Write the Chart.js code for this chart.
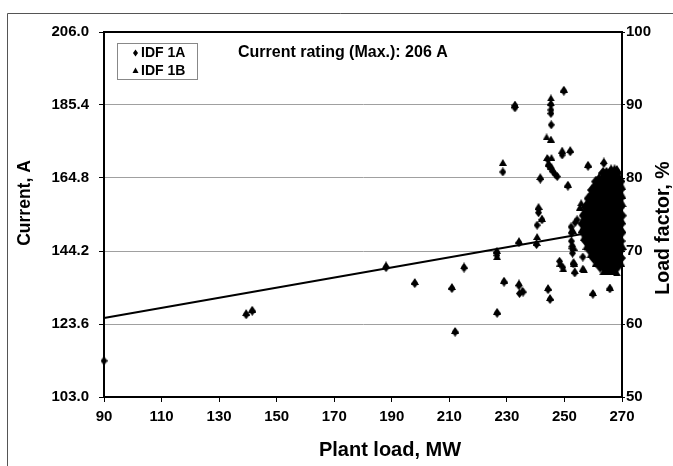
<!DOCTYPE html>
<html>
<head>
<meta charset="utf-8">
<script src="https://cdn.jsdelivr.net/npm/chart.js@4.4.1/dist/chart.umd.min.js"></script>
<style>
  html, body { margin: 0; padding: 0; background: #fff; }
  #wrap { width: 673px; height: 466px; position: relative; }
</style>
</head>
<body>
<div id="wrap"><canvas id="c" width="673" height="466"></canvas></div>
<script>
// ---- tick labels ----
const xTicks = [90, 110, 130, 150, 170, 190, 210, 230, 250, 270];
const yTicks = [103.0, 123.6, 144.2, 164.8, 185.4, 206.0];
const y2Ticks = [50, 60, 70, 80, 90, 100];

// ---- series: [plant load MW, current A] ----
const idf1aOutliers = [
  [90,113.2],[139.4,126.2],[141.5,127.2],[188,139.5],[198,135.0],[210.9,133.6],[212,121.3],[215.1,139.4],
  [226.5,143.0],[226.5,143.8],[226.6,126.6],[229,135.4],[228.6,166.5],[232.8,184.6],[232.8,185.2],
  [234.2,146.5],[234.2,134.4],[234.4,132.2],[235.6,132.6],[240.3,146.0],[240.5,151.5],[242.2,153.0],
  [241,155.0],[241,156.0],[241.6,164.5],[244.3,133.3],[245,130.5],[245.3,183.0],[245.3,184.0],[245.3,185.5],
  [245.4,179.8],[244.2,170.0],[244.4,168.4],[245.2,167.6],[246.0,166.6],[246.8,165.8],[247.5,165.2],
  [249.8,189.3],[249.2,171.3],[252,172.2],[251.2,162.5],[258.2,168.1],[263.7,168.9],[268.2,166.8],
  [248.3,141.3],[249.4,139.6],[253,140.6],[253.6,138.0],[259.9,132.0],[265.8,133.5],[252.3,151.0],
  [252.5,149.2],[252.4,147.0],[252.6,145.0],[252.8,143.6],[254.4,153.0],[253.7,152.2],[256.4,142.5]
];
const idf1bOutliers = [
  [139.4,126.8],[141.5,127.8],[188,140.3],[198,135.6],[210.9,134.2],[212,121.8],[215.1,140.0],
  [226.5,144.4],[226.6,142.6],[226.6,127.2],[229,136.0],[228.6,169.2],[232.8,185.6],[234.2,147.1],
  [234.2,135.2],[235.4,133.2],[240.3,146.6],[240.5,148.3],[242.2,153.4],[241,156.8],[241.6,165.2],
  [244.3,133.9],[245,131.1],[245.3,186.0],[245.3,187.4],[243.8,176.4],[245.3,175.8],[244,170.6],
  [245.5,170.6],[244.6,169.0],[245.5,168.0],[249.8,189.9],[249.2,172.7],[252,172.8],[251.2,163.1],
  [258.2,168.7],[263.7,169.6],[268.2,167.5],[248.6,140.8],[249.6,139.2],[253.2,141.2],[253.6,138.6],
  [256.8,138.9],[259.9,132.5],[265.8,134.0],[268.2,138.0],[252.6,150.2],[252.7,146.2],[255.4,156.6],
  [255.8,157.8],[253,150.0],[253.2,145.3],[253.4,140.8],[256.4,139.4]
];
// dense cluster near full load: [current A, [plant load MW ...]]
const idf1aCluster = [
  [166.2, [263.4, 264.6, 265.8, 267.0, 268.2]],
  [163.8, [261.0, 262.2, 263.4, 264.6, 265.8, 267.0, 268.2, 269.4]],
  [161.4, [259.6, 260.8, 262.0, 263.2, 264.4, 265.6, 266.8, 268.0, 269.2]],
  [159.0, [258.4, 259.6, 260.8, 262.0, 263.2, 264.4, 265.6, 266.8, 268.0, 269.2]],
  [156.6, [257.4, 258.6, 259.8, 261.0, 262.2, 263.4, 264.6, 265.8, 267.0, 268.2, 269.4]],
  [154.2, [256.7, 257.9, 259.1, 260.3, 261.5, 262.7, 263.9, 265.1, 266.3, 267.5, 268.7, 269.9]],
  [151.8, [256.3, 257.5, 258.7, 259.9, 261.1, 262.3, 263.5, 264.7, 265.9, 267.1, 268.3, 269.5]],
  [149.4, [256.6, 257.8, 259.0, 260.2, 261.4, 262.6, 263.8, 265.0, 266.2, 267.4, 268.6, 269.8]],
  [147.0, [257.5, 258.7, 259.9, 261.1, 262.3, 263.5, 264.7, 265.9, 267.1, 268.3, 269.5]],
  [144.6, [258.7, 259.9, 261.1, 262.3, 263.5, 264.7, 265.9, 267.1, 268.3, 269.5]],
  [142.2, [260.2, 261.4, 262.6, 263.8, 265.0, 266.2, 267.4, 268.6, 269.6]],
  [139.8, [262.4, 263.6, 264.8, 266.0, 267.2, 268.4]]
];
const idf1bCluster = [
  [167.4, [266.2, 267.4]],
  [165.0, [262.0, 263.2, 264.4, 265.6, 266.8, 268.0, 269.2]],
  [162.6, [260.2, 261.4, 262.6, 263.8, 265.0, 266.2, 267.4, 268.6, 269.8]],
  [160.2, [259.0, 260.2, 261.4, 262.6, 263.8, 265.0, 266.2, 267.4, 268.6, 269.8]],
  [157.8, [257.9, 259.1, 260.3, 261.5, 262.7, 263.9, 265.1, 266.3, 267.5, 268.7, 269.9]],
  [155.4, [257.0, 258.2, 259.4, 260.6, 261.8, 263.0, 264.2, 265.4, 266.6, 267.8, 269.0]],
  [153.0, [256.5, 257.7, 258.9, 260.1, 261.3, 262.5, 263.7, 264.9, 266.1, 267.3, 268.5, 269.7]],
  [150.6, [256.4, 257.6, 258.8, 260.0, 261.2, 262.4, 263.6, 264.8, 266.0, 267.2, 268.4, 269.6]],
  [148.2, [257.0, 258.2, 259.4, 260.6, 261.8, 263.0, 264.2, 265.4, 266.6, 267.8, 269.0]],
  [145.8, [258.0, 259.2, 260.4, 261.6, 262.8, 264.0, 265.2, 266.4, 267.6, 268.8, 269.9]],
  [143.4, [259.4, 260.6, 261.8, 263.0, 264.2, 265.4, 266.6, 267.8, 269.0]],
  [141.0, [261.2, 262.4, 263.6, 264.8, 266.0, 267.2, 268.4, 269.4]],
  [138.6, [263.8, 265.0, 266.2, 267.4]]
];
// linear trend line end points
const trendLine = [[90, 125.3], [270, 151.0]];

// ---- build library data ----
function toPts(pairs) { return pairs.map(p => ({ x: p[0], y: p[1] })); }
function rowsToPts(rows) {
  const out = [];
  rows.forEach(r => r[1].forEach(x => out.push({ x: x, y: r[0] })));
  return out;
}
const dataA = toPts(idf1aOutliers).concat(rowsToPts(idf1aCluster));
const dataB = toPts(idf1bOutliers).concat(rowsToPts(idf1bCluster));

// marker images
function makeDiamond(w, h) {
  const c = document.createElement('canvas'); c.width = w; c.height = h;
  const g = c.getContext('2d'); g.fillStyle = '#000';
  g.beginPath(); g.moveTo(w/2, 0); g.lineTo(w, h/2); g.lineTo(w/2, h); g.lineTo(0, h/2); g.closePath(); g.fill();
  return c;
}
function makeTriangle(w, h) {
  const c = document.createElement('canvas'); c.width = w; c.height = h;
  const g = c.getContext('2d'); g.fillStyle = '#000';
  g.beginPath(); g.moveTo(w/2, 0); g.lineTo(w, h); g.lineTo(0, h); g.closePath(); g.fill();
  return c;
}
const diamondImg = makeDiamond(7, 9);
const triangleImg = makeTriangle(8, 7);
const diamondDense = makeDiamond(10, 12);
const triangleDense = makeTriangle(10, 9);

const FONT = "'Liberation Sans', Arial, Helvetica, sans-serif";

const decor = {
  id: 'decor',
  beforeDraw(chart) {
    const ctx = chart.ctx;
    ctx.save();
    ctx.fillStyle = '#fff';
    ctx.fillRect(0, 0, chart.width, chart.height);
    ctx.strokeStyle = '#555';
    ctx.lineWidth = 1;
    ctx.beginPath();
    ctx.moveTo(7.5, 466); ctx.lineTo(7.5, 13.5); ctx.lineTo(673, 13.5);
    ctx.stroke();
    ctx.restore();
  },
  afterDraw(chart) {
    const ctx = chart.ctx;
    const a = chart.chartArea;
    ctx.save();
    // plot border
    ctx.strokeStyle = '#000';
    ctx.lineWidth = 2;
    ctx.strokeRect(a.left, a.top, a.right - a.left, a.bottom - a.top);
    // legend box
    ctx.fillStyle = '#fff';
    ctx.fillRect(117, 43, 81, 37);
    ctx.strokeStyle = '#888';
    ctx.lineWidth = 1;
    ctx.strokeRect(117.5, 43.5, 80, 36);
    ctx.fillStyle = '#000';
    // legend markers
    ctx.beginPath();
    ctx.moveTo(135.5, 49.5); ctx.lineTo(138, 53); ctx.lineTo(135.5, 56.5); ctx.lineTo(133, 53); ctx.closePath(); ctx.fill();
    ctx.beginPath();
    ctx.moveTo(135.5, 67.5); ctx.lineTo(138.5, 73); ctx.lineTo(132.5, 73); ctx.closePath(); ctx.fill();
    ctx.font = 'bold 14px ' + FONT;
    ctx.textBaseline = 'middle';
    ctx.textAlign = 'left';
    ctx.fillText('IDF 1A', 141, 53);
    ctx.fillText('IDF 1B', 141, 71);
    // annotation
    ctx.font = 'bold 16px ' + FONT;
    ctx.fillText('Current rating (Max.): 206 A', 238, 53);
    // axis titles
    ctx.textAlign = 'center';
    ctx.font = 'bold 20px ' + FONT;
    ctx.fillText('Plant load, MW', 390, 450);
    ctx.save();
    ctx.translate(25, 203);
    ctx.rotate(-Math.PI / 2);
    ctx.font = 'bold 17.5px ' + FONT;
    ctx.fillText('Current, A', 0, 0);
    ctx.restore();
    ctx.save();
    ctx.translate(664, 228);
    ctx.rotate(-Math.PI / 2);
    ctx.font = 'bold 19.5px ' + FONT;
    ctx.fillText('Load factor, %', 0, 0);
    ctx.restore();
    ctx.restore();
  }
};

const tickFont = { family: FONT, size: 15, weight: 'bold' };
const nA = idf1aOutliers.length;
const nB = idf1bOutliers.length;

new Chart(document.getElementById('c'), {
  type: 'scatter',
  data: {
    datasets: [
      {
        type: 'line', label: 'trend', data: toPts(trendLine),
        borderColor: '#000', borderWidth: 2, pointRadius: 0, fill: false, tension: 0, clip: false
      },
      {
        label: 'IDF 1A', data: dataA,
        pointStyle: c => (c.dataIndex >= nA ? diamondDense : diamondImg), pointRadius: 4,
        backgroundColor: '#000', borderColor: '#000', clip: false
      },
      {
        label: 'IDF 1B', data: dataB,
        pointStyle: c => (c.dataIndex >= nB ? triangleDense : triangleImg), pointRadius: 4,
        backgroundColor: '#000', borderColor: '#000', clip: false
      }
    ]
  },
  options: {
    responsive: false,
    animation: false,
    devicePixelRatio: 1,
    layout: { padding: { top: 32, left: 0, right: 0, bottom: 0 } },
    plugins: { legend: { display: false }, tooltip: { enabled: false } },
    scales: {
      x: {
        type: 'linear', position: 'bottom', min: 90, max: 270,
        afterBuildTicks: s => { s.ticks = xTicks.map(v => ({ value: v })); },
        afterFit: s => { s.height = 69; },
        grid: { drawOnChartArea: false, drawTicks: true, tickLength: 5, tickColor: '#000', tickWidth: 1 },
        border: { display: true, color: '#000', width: 2 },
        ticks: { font: tickFont, color: '#000', padding: 6, maxRotation: 0, autoSkip: false }
      },
      y: {
        type: 'linear', position: 'left', min: 103, max: 206,
        afterBuildTicks: s => { s.ticks = yTicks.map(v => ({ value: v })); },
        afterFit: s => { s.width = 104; },
        grid: { color: '#a0a0a0', lineWidth: 1, tickColor: '#000', tickLength: 5, drawTicks: true },
        border: { display: true, color: '#000', width: 2 },
        ticks: { font: tickFont, color: '#000', padding: 10, autoSkip: false,
                 callback: v => Number(v).toFixed(1) }
      },
      y2: {
        type: 'linear', position: 'right', min: 50, max: 100,
        afterBuildTicks: s => { s.ticks = y2Ticks.map(v => ({ value: v })); },
        afterFit: s => { s.width = 51; },
        grid: { drawOnChartArea: false, tickColor: '#000', tickLength: 3, drawTicks: true },
        border: { display: true, color: '#000', width: 2 },
        ticks: { font: tickFont, color: '#000', padding: 1, autoSkip: false,
                 callback: v => String(v) }
      }
    }
  },
  plugins: [decor]
});
</script>
</body>
</html>
